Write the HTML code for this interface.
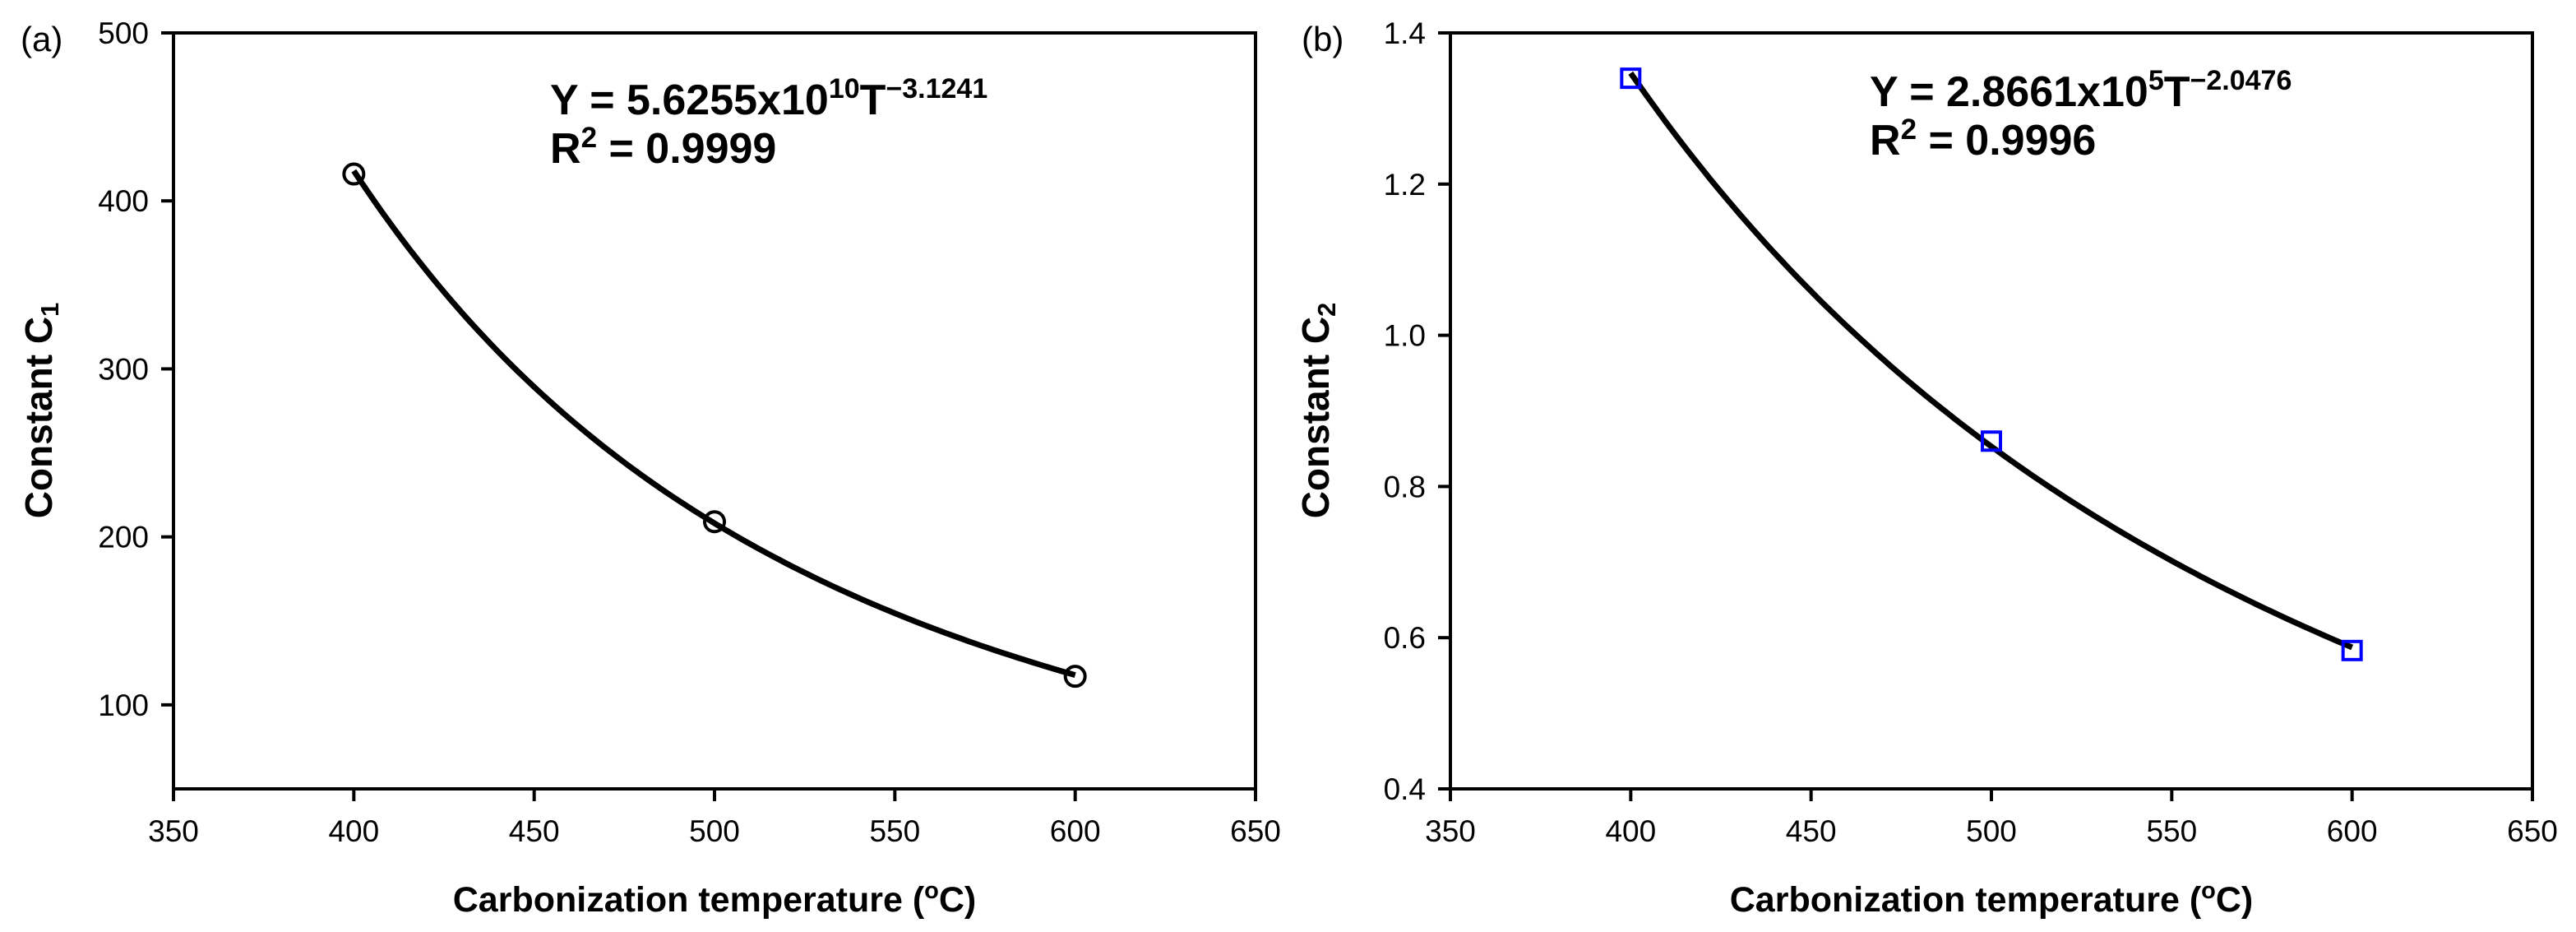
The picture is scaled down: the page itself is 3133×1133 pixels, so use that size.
<!DOCTYPE html>
<html><head><meta charset="utf-8"><style>
html,body{margin:0;padding:0;background:#fff;}
svg{display:block;}
text{font-family:"Liberation Sans",Arial,sans-serif;fill:#000;}
</style></head><body>
<svg id="chart" width="3133" height="1133" viewBox="0 0 3133 1133" xmlns="http://www.w3.org/2000/svg">
<rect width="3133" height="1133" fill="#fff"/>
<g id="pa"></g>
<g id="pb"></g>
</svg>
<script>
const xTicks = [350, 400, 450, 500, 550, 600, 650];
const tempsA = [400, 500, 600];
const c1Values = [416, 209, 117];
const yTicksA = [100, 200, 300, 400, 500];
const yTickLabelsA = ["100", "200", "300", "400", "500"];
const fitA = [5.6255e10, -3.1241];
const tempsB = [400, 500, 600];
const c2Values = [1.34, 0.86, 0.583];
const yTicksB = [0.4, 0.6, 0.8, 1.0, 1.2, 1.4];
const yTickLabelsB = ["0.4", "0.6", "0.8", "1.0", "1.2", "1.4"];
const fitB = [2.8661e5, -2.0476];

const NS = "http://www.w3.org/2000/svg";
function mk(tag, attrs, parent, txt) {
  const e = document.createElementNS(NS, tag);
  for (const k in attrs) e.setAttribute(k, attrs[k]);
  if (txt !== undefined) e.textContent = txt;
  parent.appendChild(e);
  return e;
}

function panel(g, cfg) {
  const L = cfg.left, R = cfg.left + 1316, T = 40, B = 959;
  const xs = v => L + (v - 350) / 300 * (R - L);
  const ys = v => B - (v - cfg.ymin) / (cfg.ymax - cfg.ymin) * (B - T);
  const frame = mk('rect', {x: L, y: T, width: R - L, height: B - T, fill: 'none', stroke: '#000', 'stroke-width': 4}, g);
  
  
  xTicks.forEach(v => {
    const t = mk('line', {x1: xs(v), x2: xs(v), y1: B, y2: B + 15, stroke: '#000', 'stroke-width': 4}, g);
    
    
    const l = mk('text', {x: xs(v), y: 1023, 'font-size': 37, 'text-anchor': 'middle'}, g, String(v));
    
    
  });
  cfg.yticks.forEach((v, i) => {
    const t = mk('line', {x1: L - 15, x2: L, y1: ys(v), y2: ys(v), stroke: '#000', 'stroke-width': 4}, g);
    
    
    const l = mk('text', {x: L - 30, y: ys(v) + 13, 'font-size': 37, 'text-anchor': 'end'}, g, cfg.ylabels[i]);
    
    
  });
  let d = '';
  for (let T0 = 400; T0 <= 600; T0 += 2) {
    const v = cfg.fit[0] * Math.pow(T0, cfg.fit[1]);
    d += (d ? 'L' : 'M') + xs(T0).toFixed(1) + ',' + ys(v).toFixed(1);
  }
  const c = mk('path', {d: d, fill: 'none', stroke: '#000', 'stroke-width': 7}, g);
  
  
  cfg.xs.forEach((t, i) => {
    const px = xs(t), py = ys(cfg.vals[i]);
    let m;
    if (cfg.marker === 'circle') {
      m = mk('circle', {cx: px, cy: py, r: 12, fill: 'none', stroke: '#000', 'stroke-width': 4}, g);
    } else {
      m = mk('rect', {x: px - 11, y: py - 11, width: 22, height: 22, fill: 'none', stroke: '#0000ff', 'stroke-width': 4}, g);
    }
    
    
  });
  const xt = mk('text', {x: (L + R) / 2, y: 1108, 'font-size': 43, 'font-weight': 'bold', 'text-anchor': 'middle'}, g);
  
  
  xt.innerHTML = 'Carbonization temperature (<tspan dy="-16" font-size="29">o</tspan><tspan dy="16">C)</tspan>';
  const yt = mk('text', {x: 0, y: 0, 'font-size': 46, 'font-weight': 'bold', 'text-anchor': 'middle', transform: 'translate(' + (L - 148) + ',499) rotate(-90)'}, g);
  
  
  yt.innerHTML = 'Constant C<tspan dy="8" font-size="31">' + cfg.sub + '</tspan>';
  const eq = mk('text', {x: cfg.eqx, y: cfg.eqy, 'font-size': 52, 'font-weight': 'bold'}, g);
  
  
  eq.innerHTML = cfg.eq;
  const r2 = mk('text', {x: cfg.eqx, y: cfg.eqy + 59, 'font-size': 52, 'font-weight': 'bold'}, g);
  
  
  r2.innerHTML = 'R<tspan dy="-19" font-size="35">2</tspan><tspan dy="19"> = ' + cfg.r2 + '</tspan>';
  const pl = mk('text', {x: cfg.plx, y: 62, 'font-size': 42}, g, cfg.pl);
  
  
}

panel(document.getElementById('pa'), {
  left: 211, ymin: 50, ymax: 500, yticks: yTicksA, ylabels: yTickLabelsA, fit: fitA,
  xs: tempsA, vals: c1Values, marker: 'circle', sub: '1',
  eqx: 669, eqy: 139, r2: '0.9999', plx: 25, pl: '(a)',
  eq: 'Y = 5.6255x10<tspan dy="-20" font-size="34">10</tspan><tspan dy="20">T</tspan><tspan dy="-20" font-size="34">−3.1241</tspan>'
});
panel(document.getElementById('pb'), {
  left: 1764, ymin: 0.4, ymax: 1.4, yticks: yTicksB, ylabels: yTickLabelsB, fit: fitB,
  xs: tempsB, vals: c2Values, marker: 'square', sub: '2',
  eqx: 2274, eqy: 129, r2: '0.9996', plx: 1583, pl: '(b)',
  eq: 'Y = 2.8661x10<tspan dy="-20" font-size="34">5</tspan><tspan dy="20">T</tspan><tspan dy="-20" font-size="34">−2.0476</tspan>'
});
</script>
</body></html>
